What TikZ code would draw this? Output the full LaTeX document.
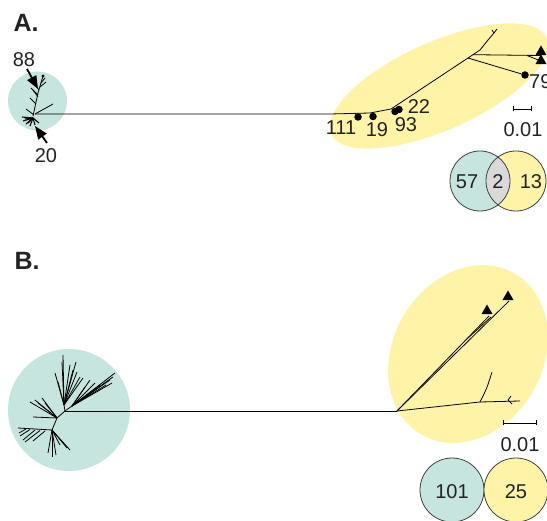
\documentclass[tikz,border=0pt]{standalone}
\usepackage{fontspec}
\setmainfont{Liberation Sans}
\usetikzlibrary{arrows.meta,shapes.geometric}
\definecolor{teal0}{RGB}{198,229,222}
\definecolor{yel0}{RGB}{255,243,168}
\definecolor{vgrey}{RGB}{217,217,217}
\definecolor{txt}{RGB}{35,35,35}
\begin{document}
\begin{tikzpicture}[x=1pt,y=-1pt,
  br/.style={line width=0.8pt, black},
  lbl/.style={font=\fontsize{20}{20}\selectfont, text=txt, inner sep=0pt},
  panel/.style={font=\fontsize{25}{25}\selectfont\bfseries, text=txt, inner sep=0pt},
  tipdot/.style={circle, fill=black, minimum size=7.5pt, inner sep=0pt},
  tritip/.style={regular polygon, regular polygon sides=3, fill=black, minimum size=13pt, inner sep=0pt},
  callout/.style={line width=1.8pt, -{Triangle[length=13pt,width=10pt]}},
  vennline/.style={draw=black!75, line width=0.8pt},
  sbar/.style={line width=0.8pt, {Bar[width=5pt]}-{Bar[width=5pt]}}
]
\useasboundingbox (0,0) rectangle (547,521);

% ================= Panel A =================
\node[panel] (pA) at (26,23) {A.};
\node[circle, fill=teal0, minimum size=59pt, inner sep=0pt] (cA) at (37.5,101) {};
\fill[yel0, rotate around={24:(439,86)}] (439,86) ellipse [x radius=118, y radius=44];

% main tree
\coordinate (a0) at (35,114);
\coordinate (a1) at (370,113);
\coordinate (a2) at (391,109);
\coordinate (a3) at (468,58);
\coordinate (a4) at (494,33);
\coordinate (a5) at (473,54.7);
\draw[br] (a0) -- (330,114) -- (a1) -- (a2) -- (a3);
\draw[br] (a3) -- (480,50) -- (488,40) -- (a4);
\draw[br] (a4) -- ++(3,-4);
\draw[br] (a4) -- ++(-2,-3);
\node[tritip] (tr1) at (541,52) {};
\node[tritip] (tr2) at (541,61) {};
\draw[br] (a5) -- (541,55.5);
\draw[br] (527,55.5) -- (tr2.center);
\node[tipdot] (t79) at (525,75) {};
\draw[br] (a3) -- (t79);
\node[lbl, anchor=west] (l79) at (529,82) {79};

\node[tipdot] (t111) at (358,117) {};
\node[tipdot] (t19) at (373,116.5) {};
\node[tipdot] (t93) at (395,111.5) {};
\node[tipdot] (t22) at (399,109.5) {};
\node[lbl] (l111) at (341,128) {111};
\node[lbl] (l19) at (377,130) {19};
\node[lbl] (l93) at (406,125) {93};
\node[lbl] (l22) at (419,107) {22};

% small teal tree
\coordinate (s0) at (33,116);
\coordinate (s1) at (38,93);
\coordinate (s2) at (43,76);
\draw[br] (s0) -- (s1) -- (s2);
\fill (s2) circle[radius=1.6];
\foreach \p/\q in {{38,95}/{31,88}, {38,97}/{33,90}, {39,90}/{35,84}, {40,87}/{46,82},
                   {41,83}/{45,78}, {36,104}/{30,98}, {35,114}/{53,104}, {34,115}/{26,109}}
  \draw[br] (\p) -- (\q);
\coordinate (s3) at (33,118);
\foreach \q in {{22,117},{23,121},{26,124},{30,126},{35,125},{39,123},{25,119},{28,123}}
  \draw[line width=1.1pt] (s3) -- (\q);

\coordinate (c88a) at (27,69);
\coordinate (c88b) at (38,89);
\draw[callout] (c88a) -- (c88b);
\node[lbl] (l88) at (24,60) {88};
\coordinate (c20a) at (47,143);
\coordinate (c20b) at (35,126);
\draw[callout] (c20a) -- (c20b);
\node[lbl] (l20) at (46,156) {20};

% scale bar A
\coordinate (sa1) at (513,109);
\coordinate (sa2) at (532,109);
\draw[sbar] (sa1) -- (sa2);
\node[lbl] (sla) at (523,130) {0.01};

% Venn A
\coordinate (vA1) at (480,181);
\coordinate (vA2) at (516,181);
\fill[teal0] (vA1) circle[radius=30];
\fill[yel0] (vA2) circle[radius=30];
\begin{scope}
  \clip (vA1) circle[radius=30];
  \fill[vgrey] (vA2) circle[radius=30];
\end{scope}
\draw[vennline] (vA1) circle[radius=30];
\draw[vennline] (vA2) circle[radius=30];
\node[lbl] (n57) at (467,182) {57};
\node[lbl] (n2) at (498,182) {2};
\node[lbl] (n13) at (531,182) {13};

% ================= Panel B =================
\node[panel] (pB) at (27,261) {B.};
\node[circle, fill=teal0, minimum size=122pt, inner sep=0pt] (cB) at (69,410) {};
\fill[yel0, rotate around={60:(468,354)}] (468,354) ellipse [x radius=93, y radius=75];

\coordinate (r0) at (65,411);
\coordinate (y0) at (397,411);
\draw[br] (r0) -- (y0);

% teal tree B
\coordinate (u1) at (72,406);
\draw[br] (r0) -- (u1);
\foreach \q in {{115,373},{113,377},{112,383},{106,385},{100,385},{90,380},{85,387},{110,380},{95,383}}
  \draw[br] (u1) -- (\q);
\coordinate (u2) at (64,405);
\draw[br] (r0) -- (u2);
\foreach \q in {{63,355},{62,362},{76,362},{77,372},{80,377},{73,370},{55,373},{58,382},{70,365},{83,378}}
  \draw[br] (u2) -- (\q);
\coordinate (u3) at (57,418);
\coordinate (u4) at (52,430);
\draw[br] (r0) -- (u3) -- (u4);
\foreach \q in {{30,402},{35,400},{42,398},{33,417},{45,403},{38,403}}
  \draw[br] (u3) -- (\q);
\coordinate (u5) at (18,428);
\draw[br] (u4) -- (u5);
\foreach \p/\q in {{45,431}/{33,441}, {40,430.5}/{25,442}, {35,430}/{23,440}, {30,429.5}/{20,436}, {26,429}/{19,433}}
  \draw[br] (\p) -- (\q);
\foreach \q in {{52,457},{48,453},{56,455},{60,445},{67,448},{70,450}}
  \draw[br] (u4) -- (\q);

% yellow tree B
\node[tritip] (bt1) at (487,311) {};
\node[tritip] (bt2) at (508,297) {};
\draw[br] (y0) -- (489,316);
\draw[br] (y0) -- (509,301);
\draw[br] (468,338) -- (491,317);
\coordinate (y1) at (480,402);
\coordinate (y2) at (520,401);
\coordinate (y3) at (492,372);
\coordinate (y4) at (508,400);
\draw[br] (y0) -- (y1) -- (y2);
\draw[br] (y1) .. controls (487,388) .. (y3);
\draw[br] (y4) -- ++(3,-4);
\draw[br] (y4) -- ++(4,4);

% scale bar B
\coordinate (sb1) at (503,423);
\coordinate (sb2) at (537,423);
\draw[sbar] (sb1) -- (sb2);
\node[lbl] (slb) at (520,445) {0.01};

% Venn B
\node[circle, fill=teal0, vennline, minimum size=64pt, inner sep=0pt] (vB1) at (452,490) {};
\node[circle, fill=yel0, vennline, minimum size=64pt, inner sep=0pt] (vB2) at (516,490) {};
\node[lbl] (n101) at (452,492) {101};
\node[lbl] (n25) at (516,492) {25};
\end{tikzpicture}
\end{document}
